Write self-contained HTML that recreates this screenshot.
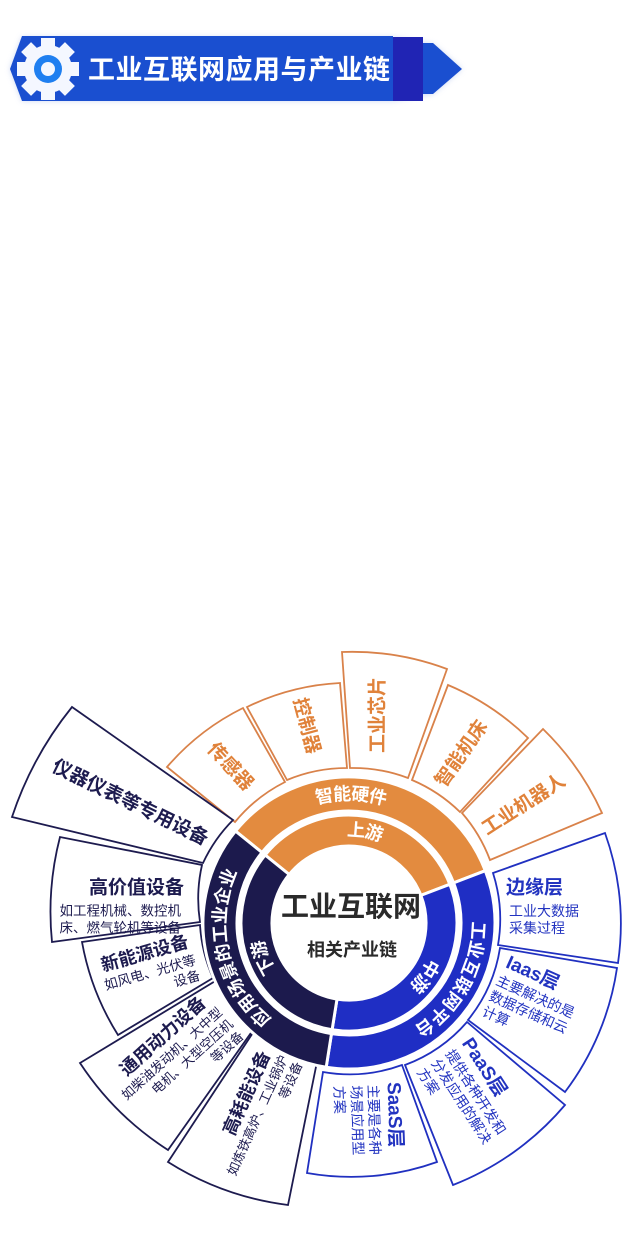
<!DOCTYPE html>
<html><head><meta charset="utf-8"><style>
html,body{margin:0;padding:0;background:#fff}
svg{display:block}
text{font-family:"Liberation Sans","Noto Sans CJK SC",sans-serif}
</style></head><body>
<svg width="640" height="1260" viewBox="0 0 640 1260" xmlns="http://www.w3.org/2000/svg">
<defs>
<filter id="sh" x="-10%" y="-30%" width="120%" height="160%"><feGaussianBlur stdDeviation="3"/></filter>
<path id="pDo" d="M311.3,1046.4 A129,129 0 0 1 261,828.7"/>
<path id="pDi" d="M336.1,1015.1 A93,93 0 0 1 275.7,865.7"/>
<path id="pBo" d="M459.6,856.6 A129,129 0 0 1 351.3,1052"/>
<path id="pBi" d="M433.3,883.7 A93,93 0 0 1 340.9,1015.6"/>
<path id="pOo" d="M238.4,856.6 A129,129 0 0 1 461.8,860.5"/>
<path id="pOi" d="M277.8,863.2 A93,93 0 0 1 436.4,891.2"/>
</defs>

<!-- header -->
<path d="M22,37 L393,37 L433,44 L462,69 L433,94 L393,101 L22,101 L10,69 Z" fill="#9fb4e8" opacity="0.5" filter="url(#sh)"/>
<path d="M22,36 L393,36 L393,101 L22,101 L10,69 Z" fill="#1a4fd0"/>
<rect x="393" y="37" width="30" height="64" fill="#2024b4"/>
<path d="M423,43 L433,43 L462,69 L433,94 L423,94 Z" fill="#1a4fd0"/>
<g transform="translate(48,69)" fill="#f4f7ff">
<circle r="24"/>
<g><rect x="-7" y="-31" width="14" height="12"/><rect x="-7" y="19" width="14" height="12"/><rect x="-31" y="-7" width="12" height="14"/><rect x="19" y="-7" width="12" height="14"/>
<g transform="rotate(45)"><rect x="-7" y="-31" width="14" height="12"/><rect x="-7" y="19" width="14" height="12"/><rect x="-31" y="-7" width="12" height="14"/><rect x="19" y="-7" width="12" height="14"/></g></g>
<circle r="14" fill="#1f7ff0"/><circle r="7" fill="#f4f7ff"/>
</g>
<text x="88" y="79" font-size="27" font-weight="bold" fill="#fff" letter-spacing="0.5">工业互联网应用与产业链</text>

<!-- outer boxes -->
<g fill="#fff" stroke="#d9824a" stroke-width="1.8">
<path d="M235,822 L167,767 A241,241 0 0 1 243,708 L285,782 A155,155 0 0 0 235,822 Z"/>
<path d="M287,780 L247,707 A240,240 0 0 1 340,683 L347,768 A155,155 0 0 0 287,780 Z"/>
<path d="M350,768 L342,652 A271,271 0 0 1 447,669 L408,778 A155,155 0 0 0 350,768 Z"/>
<path d="M412,780 L448,685 A257,257 0 0 1 528,738 L460,812 A155,155 0 0 0 412,780 Z"/>
<path d="M462,813 L543,729 A275,275 0 0 1 602,813 L490,860 A155,155 0 0 0 462,813 Z"/>
</g>
<g fill="#fff" stroke="#2030c0" stroke-width="1.8">
<path d="M493,873 L605,833 A271,271 0 0 1 618,963 L498,945 A152,152 0 0 0 493,873 Z"/>
<path d="M500,948 L617,968 A271,271 0 0 1 565,1092 L468,1020 A152,152 0 0 0 500,948 Z"/>
<path d="M467,1022 L565,1105 A281,281 0 0 1 453,1185 L405,1065 A152,152 0 0 0 467,1022 Z"/>
<path d="M402,1065 L437,1162 A254,254 0 0 1 307,1173 L323,1072 A152,152 0 0 0 402,1065 Z"/>
</g>
<g fill="#fff" stroke="#1d1b4f" stroke-width="1.8">
<path d="M320,1047 L288,1205 A294,294 0 0 1 168,1162 L258,1025 A152,152 0 0 0 320,1047 Z"/>
<path d="M258,1023 L168,1150 A297,297 0 0 1 80,1063 L217,980 A152,152 0 0 0 258,1023 Z"/>
<path d="M213,978 L118,1035 A262,262 0 0 1 82,942 L200,925 A152,152 0 0 0 213,978 Z"/>
<path d="M200,922 L52,942 A299,299 0 0 1 60,837 L202,865 A152,152 0 0 0 200,922 Z"/>
<path d="M203,863 L12,817 A352,352 0 0 1 72,707 L233,820 A152,152 0 0 0 203,863 Z"/>
</g>

<!-- ring bands -->
<g stroke="#fff" stroke-width="3">
<path d="M235.5,831.1 A146,146 0 0 1 485.3,870.7 L453.6,882.9 A112,112 0 0 0 262,852.5 Z" fill="#e38b3f"/>
<path d="M485.3,870.7 A146,146 0 0 1 326.2,1067.2 L331.5,1033.6 A112,112 0 0 0 453.6,882.9 Z" fill="#1f2ec4"/>
<path d="M326.2,1067.2 A146,146 0 0 1 235.5,831.1 L262,852.5 A112,112 0 0 0 331.5,1033.6 Z" fill="#1c1a4d"/>
<path d="M265.1,855 A108,108 0 0 1 449.8,884.3 L420.9,895.4 A77,77 0 0 0 289.2,874.5 Z" fill="#e38b3f"/>
<path d="M449.8,884.3 A108,108 0 0 1 332.1,1029.7 L337,999.1 A77,77 0 0 0 420.9,895.4 Z" fill="#1f2ec4"/>
<path d="M332.1,1029.7 A108,108 0 0 1 265.1,855 L289.2,874.5 A77,77 0 0 0 337,999.1 Z" fill="#1c1a4d"/>
</g>
<circle cx="349" cy="923" r="75" fill="#fff"/>

<!-- ring labels -->
<g fill="#fff" font-size="18" font-weight="bold" dominant-baseline="central" text-anchor="middle">
<text><textPath href="#pOo" startOffset="50%">智能硬件</textPath></text>
<text><textPath href="#pOi" startOffset="50%">上游</textPath></text>
<text letter-spacing="1"><textPath href="#pBo" startOffset="50%">工业互联网平台</textPath></text>
<text><textPath href="#pBi" startOffset="50%">中游</textPath></text>
<text letter-spacing="1"><textPath href="#pDo" startOffset="50%">应用场景的工业企业</textPath></text>
<text><textPath href="#pDi" startOffset="50%">下游</textPath></text>
</g>

<!-- center -->
<text x="351" y="916" font-size="28" font-weight="bold" fill="#2a2a2a" text-anchor="middle">工业互联网</text>
<text x="352" y="956" font-size="18" font-weight="bold" fill="#2a2a2a" text-anchor="middle">相关产业链</text>

<!-- orange box labels -->
<g fill="#e0823a" font-size="19" font-weight="bold" text-anchor="middle" dominant-baseline="central">
<text transform="translate(230,767) rotate(47)">传感器</text>
<text transform="translate(306,726) rotate(75)">控制器</text>
<text transform="translate(378,715) rotate(-90)">工业芯片</text>
<text transform="translate(462,754) rotate(-55)">智能机床</text>
<text transform="translate(524,805) rotate(-33)">工业机器人</text>
</g>

<!-- dark box labels -->
<g fill="#1d1b4f" dominant-baseline="central">
<text transform="translate(130,803) rotate(26)" font-size="19" font-weight="bold" text-anchor="middle">仪器仪表等专用设备</text>
<g text-anchor="end">
<text x="184" y="888" font-size="19" font-weight="bold">高价值设备</text>
<text x="181" y="911" font-size="13.5">如工程机械、数控机</text>
<text x="181" y="928" font-size="13.5">床、燃气轮机等设备</text>
<g transform="translate(188,941) rotate(-16)">
<text x="0" y="0" font-size="18" font-weight="bold">新能源设备</text>
<text x="2" y="20" font-size="13.5">如风电、光伏等</text>
<text x="2" y="36" font-size="13.5">设备</text>
</g>
<g transform="translate(203,1000) rotate(-42)">
<text x="0" y="0" font-size="18" font-weight="bold">通用动力设备</text>
<text x="6" y="19" font-size="13">如柴油发动机、大中型</text>
<text x="6" y="35" font-size="13">电机、大型空压机</text>
<text x="6" y="51" font-size="13">等设备</text>
</g>
<g transform="translate(265,1052) rotate(-66)">
<text x="0" y="0" font-size="18" font-weight="bold">高耗能设备</text>
<text x="4" y="19" font-size="13">如炼铁高炉、工业锅炉</text>
<text x="4" y="35" font-size="13">等设备</text>
</g>
</g>
</g>

<!-- blue box labels -->
<g fill="#2233c0" dominant-baseline="central">
<text x="506" y="888" font-size="19" font-weight="bold">边缘层</text>
<text x="509" y="911" font-size="14">工业大数据</text>
<text x="509" y="928" font-size="14">采集过程</text>
<g transform="translate(507,962) rotate(24)">
<text x="0" y="0" font-size="19" font-weight="bold">Iaas层</text>
<text x="-2" y="20" font-size="14">主要解决的是</text>
<text x="-2" y="37" font-size="14">数据存储和云</text>
<text x="-2" y="54" font-size="14">计算</text>
</g>
<g transform="translate(466,1040) rotate(57)">
<text x="0" y="0" font-size="19" font-weight="bold">PaaS层</text>
<text x="0" y="20" font-size="14">提供各种开发和</text>
<text x="0" y="37" font-size="14">分发应用的解决</text>
<text x="0" y="54" font-size="14">方案</text>
</g>
<g transform="translate(393,1082) rotate(88)">
<text x="0" y="0" font-size="19" font-weight="bold">SaaS层</text>
<text x="2" y="20" font-size="14">主要是各种</text>
<text x="2" y="37" font-size="14">场景应用型</text>
<text x="2" y="54" font-size="14">方案</text>
</g>
</g>
</svg>
</body></html>
